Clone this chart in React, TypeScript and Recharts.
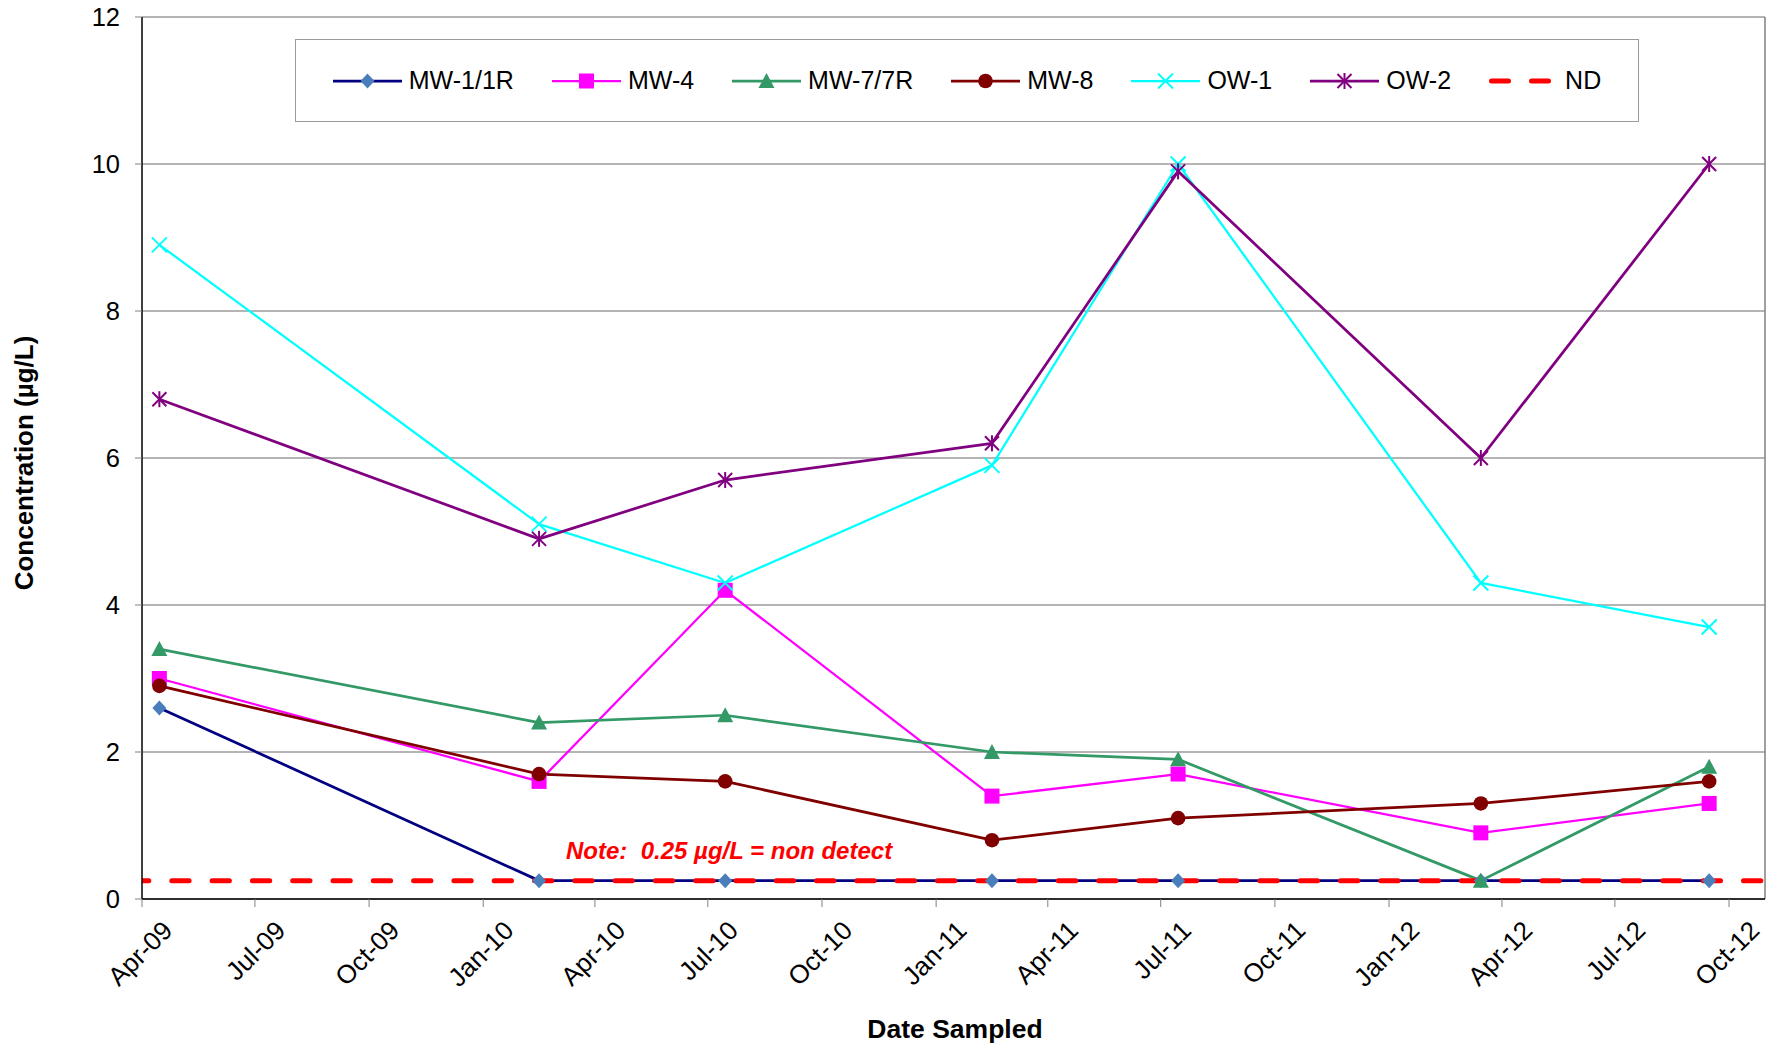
import React from 'react';
import {
  LineChart,
  Line,
  XAxis,
  YAxis,
  CartesianGrid,
  Legend,
  ReferenceLine,
} from 'recharts';

const FONT = '"Liberation Sans", Arial, sans-serif';

// sampling events
const sampleDates = [
  '2009-04-15',
  '2010-02-15',
  '2010-07-15',
  '2011-02-15',
  '2011-07-15',
  '2012-03-15',
  '2012-09-15',
];

const mw1 = [2.6, 0.25, 0.25, 0.25, 0.25, 0.25, 0.25];
const mw4 = [3.0, 1.6, 4.2, 1.4, 1.7, 0.9, 1.3];
const mw7 = [3.4, 2.4, 2.5, 2.0, 1.9, 0.25, 1.8];
const mw8 = [2.9, 1.7, 1.6, 0.8, 1.1, 1.3, 1.6];
const ow1 = [8.9, 5.1, 4.3, 5.9, 10.0, 4.3, 3.7];
const ow2 = [6.8, 4.9, 5.7, 6.2, 9.9, 6.0, 10.0];

const ndValue = 0.25;

const tickDates = [
  '2009-04-01', '2009-07-01', '2009-10-01', '2010-01-01', '2010-04-01',
  '2010-07-01', '2010-10-01', '2011-01-01', '2011-04-01', '2011-07-01',
  '2011-10-01', '2012-01-01', '2012-04-01', '2012-07-01', '2012-10-01',
];
const tickLabels = [
  'Apr-09', 'Jul-09', 'Oct-09', 'Jan-10', 'Apr-10', 'Jul-10', 'Oct-10', 'Jan-11',
  'Apr-11', 'Jul-11', 'Oct-11', 'Jan-12', 'Apr-12', 'Jul-12', 'Oct-12',
];
const yTicks = [0, 2, 4, 6, 8, 10, 12];

const xMin = Date.parse('2009-04-01');
const xMax = Date.parse('2012-10-30');

type Shape = 'diamond' | 'square' | 'triangle' | 'circle' | 'x' | 'star';

const series: { key: string; values: number[]; color: string; fill: string; shape: Shape; width: number }[] = [
  { key: 'MW-1/1R', values: mw1, color: '#000080', fill: '#4A7EBB', shape: 'diamond', width: 2.75 },
  { key: 'MW-4', values: mw4, color: '#FF00FF', fill: '#FF00FF', shape: 'square', width: 2.25 },
  { key: 'MW-7/7R', values: mw7, color: '#339966', fill: '#339966', shape: 'triangle', width: 2.75 },
  { key: 'MW-8', values: mw8, color: '#800000', fill: '#800000', shape: 'circle', width: 2.75 },
  { key: 'OW-1', values: ow1, color: '#00FFFF', fill: '#00FFFF', shape: 'x', width: 2.25 },
  { key: 'OW-2', values: ow2, color: '#800080', fill: '#800080', shape: 'star', width: 2.75 },
];

const rows = sampleDates.map((d, i) => {
  const row: any = { t: Date.parse(d) };
  series.forEach((s) => {
    row[s.key] = s.values[i];
  });
  return row;
});

const ndRows = [
  { t: xMin, nd: ndValue },
  { t: xMax, nd: ndValue },
];

const Marker = ({ shape, cx, cy, color, fill }: any) => {
  if (cx == null || cy == null) return null;
  switch (shape) {
    case 'diamond':
      return <polygon points={`${cx},${cy - 7.5} ${cx + 7},${cy} ${cx},${cy + 7.5} ${cx - 7},${cy}`} fill={fill} />;
    case 'square':
      return <rect x={cx - 7.5} y={cy - 7.5} width={15} height={15} fill={fill} />;
    case 'triangle':
      return <polygon points={`${cx},${cy - 8} ${cx + 8},${cy + 7} ${cx - 8},${cy + 7}`} fill={fill} />;
    case 'circle':
      return <circle cx={cx} cy={cy} r={7.3} fill={fill} />;
    case 'x':
      return (
        <g stroke={color} strokeWidth={2}>
          <line x1={cx - 7.5} y1={cy - 7.5} x2={cx + 7.5} y2={cy + 7.5} />
          <line x1={cx - 7.5} y1={cy + 7.5} x2={cx + 7.5} y2={cy - 7.5} />
        </g>
      );
    case 'star':
      return (
        <g stroke={color} strokeWidth={2}>
          <line x1={cx - 7} y1={cy - 7} x2={cx + 7} y2={cy + 7} />
          <line x1={cx - 7} y1={cy + 7} x2={cx + 7} y2={cy - 7} />
          <line x1={cx} y1={cy - 8} x2={cx} y2={cy + 8} />
        </g>
      );
    default:
      return null;
  }
};

const DateTick = ({ x, y, index }: any) => {
  const ax = x + 32;
  const ay = y + 25;
  return (
    <text
      x={ax}
      y={ay}
      transform={`rotate(-45, ${ax}, ${ay})`}
      textAnchor="end"
      fontSize={26}
      fontFamily={FONT}
      fill="#000"
    >
      {tickLabels[index]}
    </text>
  );
};

const LegendBox = () => (
  <div
    style={{
      width: 1344,
      height: 83,
      boxSizing: 'border-box',
      border: '1.5px solid #9a9a9a',
      background: '#fff',
      display: 'flex',
      alignItems: 'center',
      justifyContent: 'center',
      gap: 38,
      fontFamily: FONT,
      fontSize: 25,
      color: '#000',
    }}
  >
    {series.map((s) => (
      <div key={s.key} style={{ display: 'flex', alignItems: 'center' }}>
        <svg width={69} height={20}>
          <line x1={0} x2={69} y1={10} y2={10} stroke={s.color} strokeWidth={s.width} />
          <Marker shape={s.shape} cx={34.5} cy={10} color={s.color} fill={s.fill} />
        </svg>
        <span style={{ marginLeft: 7 }}>{s.key}</span>
      </div>
    ))}
    <div style={{ display: 'flex', alignItems: 'center' }}>
      <svg width={69} height={20}>
        <line
          x1={2.5}
          x2={66}
          y1={10}
          y2={10}
          stroke="#FF0000"
          strokeWidth={5}
          strokeDasharray="17 23"
          strokeLinecap="round"
        />
      </svg>
      <span style={{ marginLeft: 7 }}>ND</span>
    </div>
  </div>
);

export default function App() {
  return (
    <div style={{ position: 'absolute', left: 0, top: 0, width: 1774, height: 1047, background: '#fff' }}>
      <LineChart
        width={1774}
        height={1047}
        data={rows}
        margin={{ top: 17, right: 9, bottom: 0, left: 0 }}
      >
        <CartesianGrid vertical={false} stroke="#6b6b6b" strokeWidth={1} />
        <XAxis
          dataKey="t"
          type="number"
          domain={[xMin, xMax]}
          ticks={tickDates.map((d) => Date.parse(d))}
          interval={0}
          allowDataOverflow
          height={148}
          tickSize={8}
          tickMargin={0}
          tick={<DateTick />}
          tickLine={{ stroke: '#808080' }}
          axisLine={{ stroke: '#000', strokeWidth: 1.5 }}
        />
        <YAxis
          type="number"
          domain={[0, 12]}
          ticks={yTicks}
          interval={0}
          width={142}
          tickSize={7}
          tickMargin={15}
          tick={{ fontSize: 25.5, fill: '#000', fontFamily: FONT }}
          tickLine={{ stroke: '#808080' }}
          axisLine={{ stroke: '#000', strokeWidth: 1.5 }}
        />
        <ReferenceLine x={xMax} stroke="#808080" strokeWidth={1.5} />
        <Legend
          layout="horizontal"
          verticalAlign="middle"
          align="center"
          content={<LegendBox />}
          wrapperStyle={{ position: 'absolute', top: 39, left: 295, width: 1344, height: 83 }}
        />
        {series.map((s) => (
          <Line
            key={`line-${s.key}`}
            dataKey={s.key}
            name={s.key}
            stroke={s.color}
            strokeWidth={s.width}
            strokeLinejoin="round"
            dot={false}
            activeDot={false}
            isAnimationActive={false}
          />
        ))}
        <Line
          data={ndRows}
          dataKey="nd"
          name="ND"
          stroke="#FF0000"
          strokeWidth={5}
          strokeDasharray="17.3 23"
          strokeDashoffset={10.5}
          strokeLinecap="round"
          dot={false}
          activeDot={false}
          isAnimationActive={false}
        />
        {series.map((s) => (
          <Line
            key={`dots-${s.key}`}
            dataKey={s.key}
            stroke="none"
            legendType="none"
            activeDot={false}
            isAnimationActive={false}
            dot={(p: any) => (
              <Marker
                key={`${s.key}-${p.index}`}
                shape={s.shape}
                cx={p.cx}
                cy={p.cy}
                color={s.color}
                fill={s.fill}
              />
            )}
          />
        ))}
      </LineChart>
      <svg
        width={1774}
        height={1047}
        style={{ position: 'absolute', left: 0, top: 0, pointerEvents: 'none' }}
      >
        <text
          x={566}
          y={859}
          fontFamily={FONT}
          fontSize={24}
          fontWeight="bold"
          fontStyle="italic"
          fill="#FF0000"
        >
          Note:{'\u00A0\u00A0'}0.25 µg/L = non detect
        </text>
        <text
          x={955}
          y={1038}
          textAnchor="middle"
          fontFamily={FONT}
          fontSize={26.5}
          fontWeight="bold"
          fill="#000"
        >
          Date Sampled
        </text>
        <text
          x={33}
          y={463}
          textAnchor="middle"
          transform="rotate(-90, 33, 463)"
          fontFamily={FONT}
          fontSize={26}
          fontWeight="bold"
          fill="#000"
        >
          Concentration (µg/L)
        </text>
      </svg>
    </div>
  );
}
